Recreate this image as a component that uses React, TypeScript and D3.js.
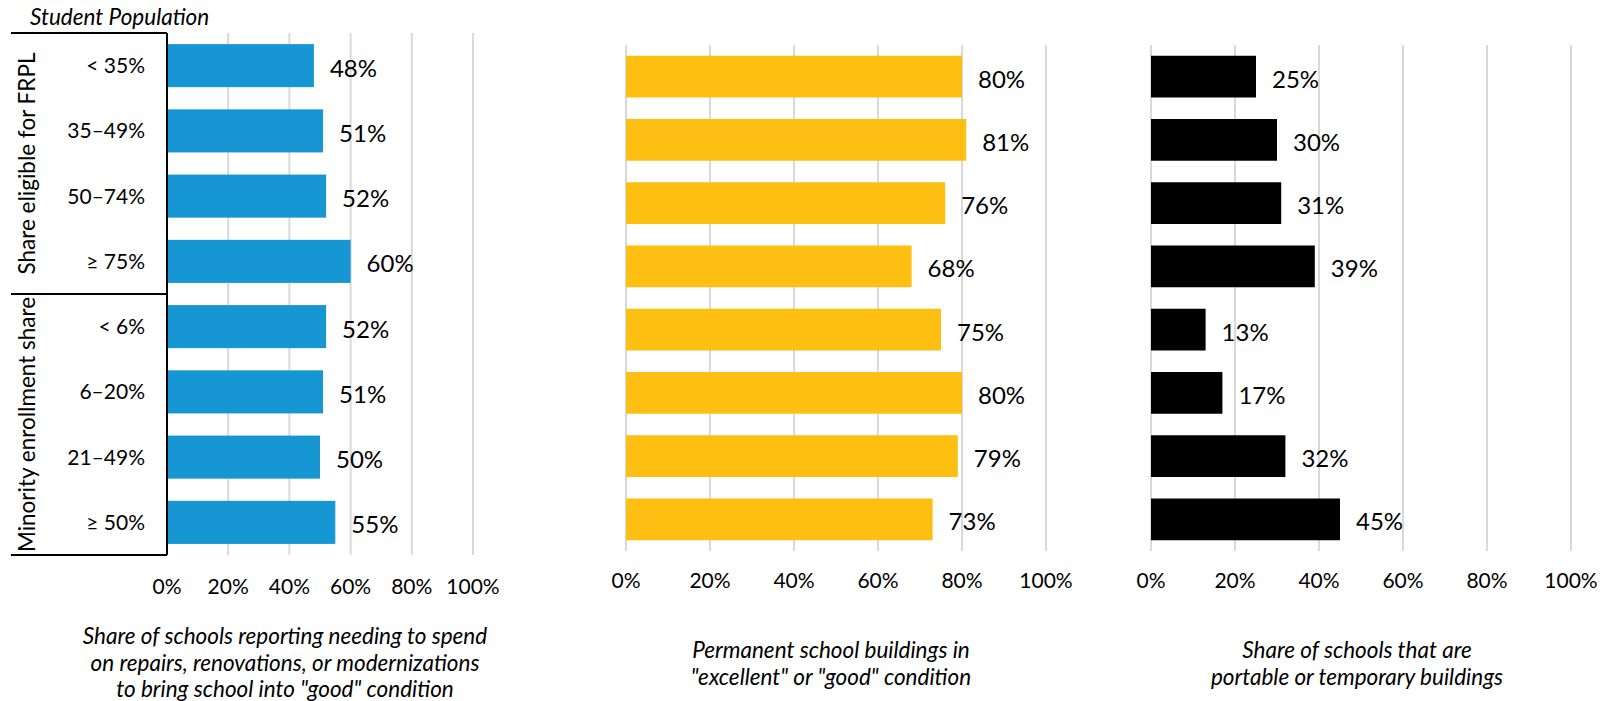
import React from "react";
import * as d3 from "d3";

const categories = ["< 35%", "35–49%", "50–74%", "≥ 75%", "< 6%", "6–20%", "21–49%", "≥ 50%"];
const groupLabels = ["Share eligible for FRPL", "Minority enrollment share"];
const repairsNeeded = [48, 51, 52, 60, 52, 51, 50, 55];
const goodCondition = [80, 81, 76, 68, 75, 80, 79, 73];
const portableShare = [25, 30, 31, 39, 13, 17, 32, 45];
const tickValues = [0, 20, 40, 60, 80, 100];
const title1 = ["Share of schools reporting needing to spend", "on repairs, renovations, or modernizations", "to bring school into \"good\" condition"];
const title2 = ["Permanent school buildings in", "\"excellent\" or \"good\" condition"];
const title3 = ["Share of schools that are", "portable or temporary buildings"];

const FONT = "Lato, 'Open Sans', sans-serif";
const W = 1612;
const H = 701;

type PanelProps = {
  values: number[];
  color: string;
  x0: number;
  x1: number;
  y0: number;
  y1: number;
  tickY: number;
  title: string[];
  titleX: number;
  titleY: number;
  blackAxis?: boolean;
};

function Panel({ values, color, x0, x1, y0, y1, tickY, title, titleX, titleY, blackAxis }: PanelProps) {
  const x = d3.scaleLinear().domain([0, 100]).range([x0, x1]);
  const y = d3.scaleBand<string>().domain(categories).range([y0, y1]).paddingInner(0.34).paddingOuter(0.17);
  return (
    <g>
      {tickValues.map((t) => (
        <line key={"g" + t} x1={x(t)} x2={x(t)} y1={y0} y2={y1} stroke="#d9d9d9" strokeWidth={2} />
      ))}
      {values.map((v, i) => (
        <rect key={"b" + i} x={x(0)} y={y(categories[i])} width={x(v) - x(0)} height={y.bandwidth()} fill={color} />
      ))}
      {values.map((v, i) => (
        <text
          key={"l" + i}
          x={x(v) + 16}
          y={(y(categories[i]) as number) + y.bandwidth() / 2 + 11}
          fontSize={24}
          fontFamily={FONT}
          fill="#000"
        >
          {v + "%"}
        </text>
      ))}
      {blackAxis && <line x1={x(0)} x2={x(0)} y1={y0} y2={y1} stroke="#000" strokeWidth={2} />}
      {tickValues.map((t) => (
        <text key={"t" + t} x={x(t)} y={tickY} textAnchor="middle" fontSize={21} fontFamily={FONT} fill="#000">
          {t + "%"}
        </text>
      ))}
      {title.map((s, i) => (
        <text
          key={"ti" + i}
          x={titleX}
          y={titleY + i * 26.5}
          textAnchor="middle"
          fontSize={22.5}
          fontStyle="italic"
          fontFamily={FONT}
          fill="#000"
        >
          {s}
        </text>
      ))}
    </g>
  );
}

export default function App() {
  const boxTop = 33;
  const boxBottom = 555;
  const boxLeft = 11;
  const boxRight = 167;
  const yCat = d3.scaleBand<string>().domain(categories).range([boxTop, boxBottom]);
  const groupY = d3.scaleBand<string>().domain(groupLabels).range([boxTop, boxBottom]);
  return (
    <div style={{ position: "absolute", left: 0, top: 0 }}>
      <svg width={W} height={H} style={{ display: "block", background: "#fff" }}>
        <text x={30} y={25} fontSize={22.5} fontStyle="italic" fontFamily={FONT} fill="#000">
          Student Population
        </text>
        <Panel
          values={repairsNeeded}
          color="#1696d2"
          x0={167}
          x1={473}
          y0={boxTop}
          y1={boxBottom}
          tickY={594}
          title={title1}
          titleX={285}
          titleY={644}
          blackAxis
        />
        <Panel
          values={goodCondition}
          color="#fdbf11"
          x0={626}
          x1={1046}
          y0={45}
          y1={551}
          tickY={588}
          title={title2}
          titleX={831}
          titleY={658}
        />
        <Panel
          values={portableShare}
          color="#000000"
          x0={1151}
          x1={1571}
          y0={45}
          y1={551}
          tickY={588}
          title={title3}
          titleX={1357}
          titleY={658}
        />
        <g stroke="#000" strokeWidth={2} fill="none">
          <line x1={boxLeft} x2={boxRight} y1={boxTop} y2={boxTop} />
          <line x1={boxLeft} x2={boxRight} y1={boxBottom} y2={boxBottom} />
          <line x1={boxLeft} x2={boxRight} y1={(groupY(groupLabels[1]) as number)} y2={(groupY(groupLabels[1]) as number)} />
          <line x1={boxRight} x2={boxRight} y1={boxTop} y2={boxBottom} />
        </g>
        {categories.map((c) => (
          <text
            key={c}
            x={145}
            y={(yCat(c) as number) + yCat.bandwidth() / 2 + 7.5}
            textAnchor="end"
            fontSize={21}
            fontFamily={FONT}
            fill="#000"
          >
            {c}
          </text>
        ))}
        {groupLabels.map((g) => {
          const cy = (groupY(g) as number) + groupY.bandwidth() / 2;
          return (
            <text
              key={g}
              transform={`translate(35,${cy}) rotate(-90)`}
              textAnchor="middle"
              fontSize={22.5}
              fontFamily={FONT}
              fill="#000"
            >
              {g}
            </text>
          );
        })}
      </svg>
    </div>
  );
}
